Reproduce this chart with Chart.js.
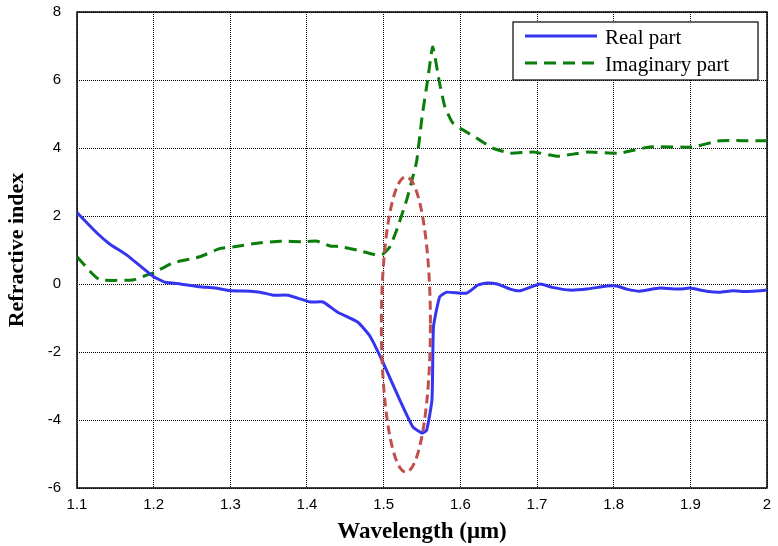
<!DOCTYPE html>
<html>
<head>
<meta charset="utf-8">
<script src="https://cdn.jsdelivr.net/npm/chart.js@4/dist/chart.umd.min.js"></script>
<style>
  html, body { margin: 0; padding: 0; background: #fff; }
  canvas { display: block; }
</style>
</head>
<body>
<canvas id="chart" width="778" height="546"></canvas>
<script>
/* ── Data ── */
const REAL_X = [1.100, 1.126, 1.143, 1.165, 1.199, 1.215, 1.235, 1.260, 1.280, 1.303, 1.326, 1.339, 1.356, 1.375,
                1.404, 1.421, 1.440, 1.466, 1.482, 1.499, 1.521, 1.538, 1.550, 1.556, 1.563, 1.565, 1.573, 1.582,
                1.608, 1.623, 1.635, 1.648, 1.665, 1.678, 1.704, 1.720, 1.743, 1.765, 1.791, 1.804, 1.817, 1.834,
                1.860, 1.886, 1.899, 1.921, 1.938, 1.955, 1.974, 2.000];
const REAL_Y = [2.10, 1.50, 1.17, 0.85, 0.23, 0.05, 0.00, -0.08, -0.12, -0.20, -0.21, -0.24, -0.33, -0.33,
                -0.53, -0.53, -0.83, -1.12, -1.53, -2.30, -3.41, -4.20, -4.38, -4.30, -3.41, -1.26, -0.38, -0.24,
                -0.27, -0.03, 0.03, 0.00, -0.15, -0.20, 0.00, -0.10, -0.18, -0.15, -0.06, -0.06, -0.15, -0.21,
                -0.12, -0.15, -0.12, -0.21, -0.24, -0.20, -0.22, -0.18];

const IMAG_X = [1.100, 1.120, 1.130, 1.173, 1.191, 1.199, 1.225, 1.260, 1.286, 1.303, 1.335, 1.365, 1.395, 1.413,
                1.430, 1.443, 1.465, 1.491, 1.499, 1.508, 1.517, 1.530, 1.538, 1.543, 1.550, 1.558, 1.564, 1.573,
                1.580, 1.590, 1.608, 1.625, 1.642, 1.665, 1.695, 1.726, 1.747, 1.765, 1.808, 1.847, 1.903, 1.938, 2.000];
const IMAG_Y = [0.80, 0.30, 0.12, 0.12, 0.26, 0.32, 0.62, 0.80, 1.04, 1.09, 1.20, 1.26, 1.24, 1.26,
                1.12, 1.10, 1.00, 0.85, 0.88, 1.09, 1.59, 2.47, 3.15, 3.60, 4.90, 6.10, 6.97, 5.90,
                5.20, 4.74, 4.47, 4.24, 4.00, 3.85, 3.88, 3.76, 3.82, 3.88, 3.85, 4.03, 4.03, 4.21, 4.21];

const SERIES_LABELS = ['Real part', 'Imaginary part'];
const X_TICKS = [1.1, 1.2, 1.3, 1.4, 1.5, 1.6, 1.7, 1.8, 1.9, 2.0];
const Y_MIN = -6, Y_MAX = 8, Y_STEP = 2;

// dashed ellipse marking the resonance (data units)
const HIGHLIGHT = { x: 1.529, y: -1.19, halfW: 0.032, halfH: 4.34 };

const COLORS = {
  real:  '#3535f0',
  imag:  '#0a7d0a',
  mark:  '#c0504d',
};

const SERIF = "'Liberation Serif', 'Times New Roman', serif";
Chart.defaults.font.family = "'Liberation Sans', Arial, sans-serif";
Chart.defaults.color = '#000';

/* ── Plugins ── */
const framePlugin = {
  id: 'frame',
  beforeDatasetsDraw(chart) {
    const { ctx, chartArea: a } = chart;
    ctx.save();
    ctx.strokeStyle = '#000';
    ctx.lineWidth = 1.5;
    ctx.strokeRect(a.left, a.top, a.right - a.left, a.bottom - a.top);
    ctx.restore();
  }
};

const highlightPlugin = {
  id: 'highlight',
  afterDatasetsDraw(chart) {
    const { ctx, scales: { x, y } } = chart;
    const cx = x.getPixelForValue(HIGHLIGHT.x);
    const cy = y.getPixelForValue(HIGHLIGHT.y);
    const rx = Math.abs(x.getPixelForValue(HIGHLIGHT.x + HIGHLIGHT.halfW) - cx);
    const ry = Math.abs(y.getPixelForValue(HIGHLIGHT.y + HIGHLIGHT.halfH) - cy);
    ctx.save();
    ctx.strokeStyle = COLORS.mark;
    ctx.lineWidth = 3;
    ctx.setLineDash([9, 5]);
    ctx.beginPath();
    ctx.ellipse(cx, cy, rx, ry, 0, 0, Math.PI * 2);
    ctx.stroke();
    ctx.restore();
  }
};

const boxLegend = {
  id: 'boxLegend',
  afterDraw(chart) {
    const { ctx, chartArea: a } = chart;
    const w = 245, h = 58;
    const left = a.right - w - 9, top = a.top + 10;
    ctx.save();
    ctx.fillStyle = '#fff';
    ctx.fillRect(left, top, w, h);
    ctx.strokeStyle = '#000';
    ctx.lineWidth = 1.2;
    ctx.strokeRect(left, top, w, h);
    ctx.font = '21px ' + SERIF;
    ctx.textBaseline = 'middle';
    chart.data.datasets.forEach((ds, i) => {
      const ly = top + 14 + i * 27;
      ctx.strokeStyle = ds.borderColor;
      ctx.lineWidth = ds.borderWidth;
      ctx.setLineDash(ds.borderDash || []);
      ctx.beginPath();
      ctx.moveTo(left + 12, ly);
      ctx.lineTo(left + 84, ly);
      ctx.stroke();
      ctx.setLineDash([]);
      ctx.fillStyle = '#000';
      ctx.fillText(ds.label, left + 92, ly + 2);
    });
    ctx.restore();
  }
};

/* ── Chart ── */
const toPoints = (xs, ys) => xs.map((v, i) => ({ x: v, y: ys[i] }));

new Chart(document.getElementById('chart'), {
  type: 'line',
  data: {
    datasets: [
      {
        label: SERIES_LABELS[0],
        data: toPoints(REAL_X, REAL_Y),
        borderColor: COLORS.real,
        borderWidth: 3,
        pointRadius: 0,
        tension: 0.15,
        fill: false,
      },
      {
        label: SERIES_LABELS[1],
        data: toPoints(IMAG_X, IMAG_Y),
        borderColor: COLORS.imag,
        borderWidth: 3,
        borderDash: [12, 7],
        pointRadius: 0,
        tension: 0.15,
        fill: false,
      }
    ]
  },
  options: {
    responsive: false,
    animation: false,
    devicePixelRatio: 1,
    layout: { padding: { left: 0, top: 12, right: 11, bottom: 0 } },
    plugins: { legend: { display: false }, tooltip: { enabled: false } },
    scales: {
      x: {
        type: 'linear',
        min: X_TICKS[0],
        max: X_TICKS[X_TICKS.length - 1],
        afterBuildTicks: axis => { axis.ticks = X_TICKS.map(v => ({ value: v })); },
        afterFit: axis => { axis.height = 58; axis.paddingLeft = 0; axis.paddingRight = 0; },
        ticks: { callback: v => String(+v.toFixed(1)), font: { size: 15 }, padding: 8, maxRotation: 0, autoSkip: false },
        grid: { color: '#000', lineWidth: 1, drawTicks: false },
        border: { display: false, dash: [1, 1] },
        title: { display: true, text: 'Wavelength (\u03bcm)', font: { family: SERIF, size: 23, weight: 'bold' }, padding: { top: 0, bottom: 0 } },
      },
      y: {
        min: Y_MIN,
        max: Y_MAX,
        afterFit: axis => { axis.width = 77; axis.paddingTop = 0; axis.paddingBottom = 0; },
        ticks: { stepSize: Y_STEP, font: { size: 15 }, padding: 16 },
        grid: { color: '#000', lineWidth: 1, drawTicks: false },
        border: { display: false, dash: [1, 1] },
        title: { display: true, text: 'Refractive index', font: { family: SERIF, size: 22, weight: 'bold' }, padding: { top: 4, bottom: 0 } },
      }
    }
  },
  plugins: [framePlugin, highlightPlugin, boxLegend]
});
</script>
</body>
</html>
